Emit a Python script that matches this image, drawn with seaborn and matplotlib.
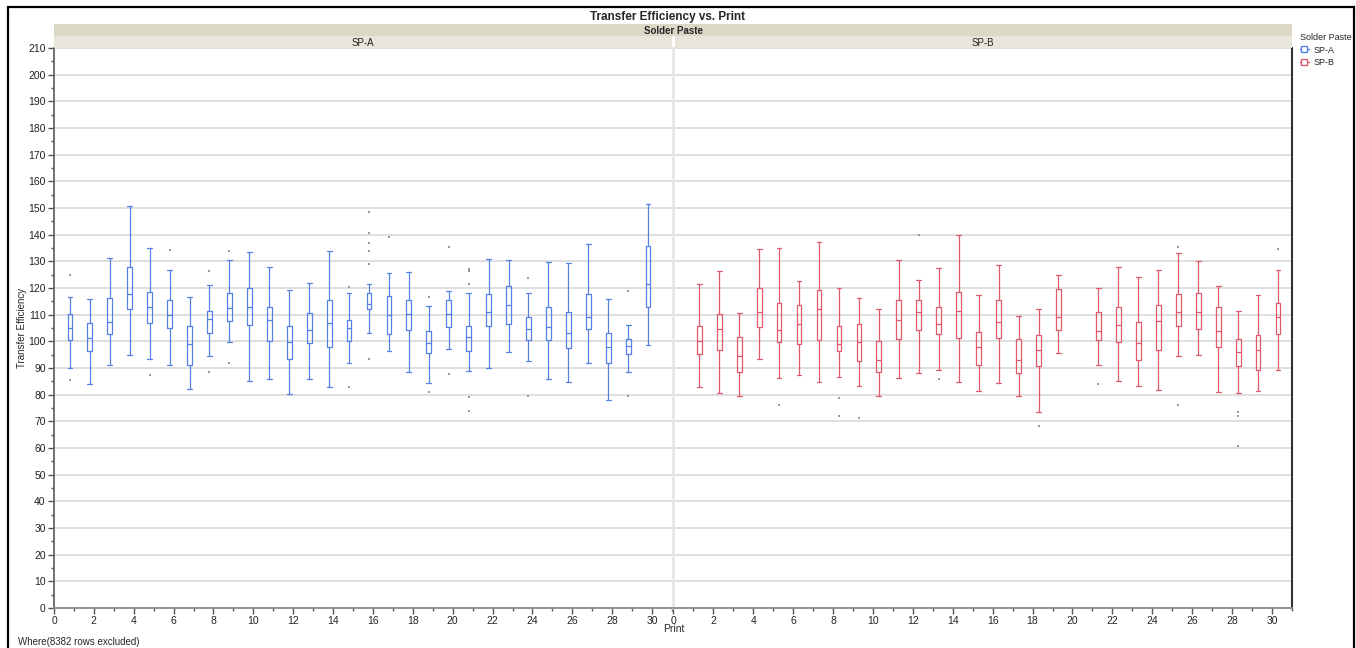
import matplotlib.pyplot as plt
import pandas as pd
import seaborn as sns
from matplotlib.patches import Rectangle
from matplotlib.lines import Line2D
from matplotlib.ticker import MultipleLocator

# box summaries, one entry per print
prints_a = list(range(1, 31))
a_low = [90.1, 84.1, 91.25, 94.75, 93.5, 91, 82, 94.5, 99.6, 85.25, 86, 80.25, 86, 82.9, 91.9,
         103.25, 96.5, 88.4, 84.5, 97, 88.9, 90.1, 96, 92.75, 86, 84.75, 92, 78.1, 88.6, 98.75]
a_q1 = [100.6, 96.5, 102.75, 112.25, 107, 105.1, 91.25, 103.25, 107.5, 106, 100.25, 93.5, 99.5, 98, 100.25,
        112, 102.9, 104.1, 95.75, 105.25, 96.25, 105.9, 106.5, 100.6, 100.5, 97.6, 104.75, 91.9, 95.25, 112.9]
a_med = [105.1, 101.25, 107.4, 117.9, 112.9, 110, 99.1, 108.5, 112.6, 112.9, 108.1, 99.9, 104.4, 107, 105.1,
         114.1, 110, 110.4, 99.5, 110.4, 101.75, 111, 113.75, 104.6, 105.5, 103.25, 109.25, 97.9, 98.4, 121.6]
a_q3 = [110.1, 107, 116.25, 128, 118.5, 115.4, 105.75, 111.4, 118.1, 120, 112.9, 105.9, 110.6, 115.5, 108,
        118, 117, 115.6, 103.9, 115.4, 105.75, 117.75, 120.6, 109.25, 112.9, 111, 117.6, 103.25, 100.9, 135.75]
a_high = [116.6, 116, 131.4, 150.6, 135.1, 126.75, 116.6, 121.1, 130.6, 133.6, 128, 119.4, 121.9, 133.9, 118.1,
          121.6, 125.75, 126.1, 113.25, 118.9, 118, 131, 130.4, 118, 129.6, 129.4, 136.5, 116, 106, 151.6]
a_out_print = [1, 1, 5, 6, 8, 8, 9, 9, 15, 15, 16, 16, 16, 16, 16, 16, 17, 19, 19, 20, 20,
               21, 21, 21, 21, 21, 24, 24, 29, 29]
a_out_value = [124.75, 85.4, 87.5, 134.1, 126.4, 88.4, 133.9, 91.75, 120.4, 82.75,
               148.6, 140.75, 136.9, 133.75, 128.9, 93.25, 139.1, 116.5, 81, 135.5, 87.75,
               127, 126.25, 121.4, 79.1, 74, 123.6, 79.4, 118.75, 79.5]

prints_b = list(range(1, 20)) + list(range(21, 31))
b_low = [82.9, 80.5, 79.5, 93.4, 86.4, 87.5, 84.75, 86.75, 83.1, 79.5, 86.4, 88.25, 89.4, 84.6, 81.5,
         84.5, 79.5, 73.5, 95.5, 91.25, 85.25, 83.1, 81.9, 94.5, 94.75, 81.1, 80.6, 81.4, 89.25]
b_q1 = [95.4, 96.9, 88.6, 105.25, 99.9, 98.9, 100.6, 96.5, 92.75, 88.6, 101, 104.4, 102.9, 101.4, 91.1,
        101.4, 88, 90.6, 104.4, 100.5, 99.6, 93.1, 96.9, 105.9, 104.75, 98, 90.9, 89.4, 102.9]
b_med = [100.25, 104.75, 94.4, 111.1, 104.4, 106.5, 112.25, 99.1, 99.75, 93.1, 108.1, 111.1, 106.5, 111.4, 97.9,
         107.4, 93.1, 96.9, 109.25, 104, 106.25, 99.5, 107.75, 111.1, 111, 104, 96.1, 96.9, 109.25]
b_q3 = [105.6, 110.1, 101.75, 120, 114.4, 113.75, 119.4, 105.9, 106.5, 100.1, 115.6, 115.4, 112.9, 118.5, 103.5,
        115.6, 100.9, 102.25, 119.6, 110.9, 112.9, 107.25, 113.75, 117.75, 118.1, 113, 100.9, 102.25, 114.5]
b_high = [121.5, 126.5, 110.75, 134.75, 135.1, 122.6, 137.25, 120, 116.25, 112.1, 130.6, 123.1, 127.5, 140, 117.25,
          128.5, 109.5, 112.25, 124.9, 120, 127.9, 124.1, 126.75, 133.1, 130.25, 120.75, 111.4, 117.25, 126.75]
b_out_print = [5, 8, 8, 9, 12, 13, 18, 21, 25, 25, 28, 28, 28, 30]
b_out_value = [76.1, 78.75, 72.1, 71.25, 140, 85.9, 68.1, 83.9, 135.5, 76, 73.6, 72, 60.6, 134.5]

groups = ['SP-A', 'SP-B']
colors = {'SP-A': '#5580E6', 'SP-B': '#DE5A6C'}
offsets = {'SP-A': -0.2, 'SP-B': 0.3}

W, H = 1356, 648


def fx(x):
    return x / W


def fy(y):
    return 1 - y / H


sns.set_theme(style='white')
plt.rcParams['font.family'] = ['Liberation Sans', 'DejaVu Sans']

fig = plt.figure(figsize=(W / 100, H / 100), dpi=100)
ax_a = fig.add_axes([fx(54), fy(608), fx(672) - fx(54), fy(48) - fy(608)])
ax_b = fig.add_axes([fx(673.3), fy(608), fx(1292) - fx(673.3), fy(48) - fy(608)], sharey=ax_a)

series = {
    'SP-A': (ax_a, prints_a, a_low, a_q1, a_med, a_q3, a_high, a_out_print, a_out_value),
    'SP-B': (ax_b, prints_b, b_low, b_q1, b_med, b_q3, b_high, b_out_print, b_out_value),
}

for name in groups:
    ax, prints, low, q1, med, q3, high, out_p, out_v = series[name]
    col = colors[name]
    stats = [dict(whislo=l, q1=a, med=m, q3=b, whishi=h, fliers=[])
             for l, a, m, b, h in zip(low, q1, med, q3, high)]
    ax.bxp(stats, positions=[p + offsets[name] for p in prints], widths=0.24, capwidths=0.24,
           showfliers=False, manage_ticks=False,
           boxprops=dict(color=col, lw=0.9), medianprops=dict(color=col, lw=0.9),
           whiskerprops=dict(color=col, lw=0.9), capprops=dict(color=col, lw=0.9))
    outs = pd.DataFrame({'Print': [p + offsets[name] for p in out_p], 'Transfer Efficiency': out_v})
    sns.scatterplot(data=outs, x='Print', y='Transfer Efficiency', ax=ax, color='#9A9A9A',
                    s=4, marker='s', linewidth=0)

for ax in (ax_a, ax_b):
    ax.set_xlim(0, 31)
    ax.set_ylim(0, 210)
    ax.yaxis.set_major_locator(MultipleLocator(10))
    ax.yaxis.set_minor_locator(MultipleLocator(5))
    ax.xaxis.set_major_locator(MultipleLocator(2))
    ax.xaxis.set_minor_locator(MultipleLocator(1))
    ax.grid(axis='y', which='major', color='#DCDCDC', lw=1.3)
    ax.set_axisbelow(True)
    ax.set_xlabel('')
    ax.set_ylabel('')
    ax.tick_params(axis='both', which='major', direction='out', length=4, width=1,
                   color='#555555', labelsize=7.5, labelcolor='#222222', pad=2)
    ax.tick_params(axis='both', which='minor', direction='out', length=2.5, width=1, color='#555555')
    ax.spines['top'].set_visible(False)
    ax.spines['bottom'].set_color('#8A8A8A')
    ax.spines['bottom'].set_linewidth(1.3)
    ax.xaxis.set_ticks_position('bottom')

ax_a.yaxis.set_ticks_position('left')
ax_a.spines['left'].set_color('#666666')
ax_a.spines['left'].set_linewidth(1.3)
ax_a.spines['right'].set_visible(False)
ax_b.spines['left'].set_color('#E6E6E6')
ax_b.spines['left'].set_linewidth(2)
ax_b.spines['right'].set_color('#333333')
ax_b.spines['right'].set_linewidth(1.5)
ax_b.tick_params(axis='y', which='both', left=False, right=False, labelleft=False)

# facet strips
fig.add_artist(Rectangle((fx(54), fy(36)), fx(1292) - fx(54), fy(24) - fy(36),
                         transform=fig.transFigure, color='#DCD8C8', lw=0))
fig.add_artist(Rectangle((fx(54), fy(48)), fx(672) - fx(54), fy(36) - fy(48),
                         transform=fig.transFigure, color='#E8E6DA', lw=0))
fig.add_artist(Rectangle((fx(675), fy(48)), fx(1292) - fx(675), fy(36) - fy(48),
                         transform=fig.transFigure, color='#E8E6DA', lw=0))
fig.text(fx(673), fy(30.5), 'Solder Paste', ha='center', va='center', fontsize=7, fontweight='bold')
fig.text(fx(363), fy(42.5), 'SP-A', ha='center', va='center', fontsize=7, color='#222222')
fig.text(fx(983), fy(42.5), 'SP-B', ha='center', va='center', fontsize=7, color='#222222')

fig.text(fx(668), fy(17), 'Transfer Efficiency vs. Print', ha='center', va='center',
         fontsize=8.5, fontweight='bold')
fig.text(fx(22), fy(328), 'Transfer Efficiency', rotation=90, ha='center', va='center', fontsize=7)
fig.text(fx(674), fy(629), 'Print', ha='center', va='center', fontsize=7.5)
fig.text(fx(18), fy(642), 'Where(8382 rows excluded)', ha='left', va='center', fontsize=7)

handles = [Line2D([], [], color=colors[g], lw=1, marker='s', markersize=4,
                  markerfacecolor='white', markeredgecolor=colors[g]) for g in groups]
leg = fig.legend(handles, groups, title='Solder Paste', loc='upper left',
                 bbox_to_anchor=(fx(1295), fy(28)), frameon=False, fontsize=6.5, title_fontsize=6.5,
                 handlelength=0.9, handletextpad=0.5, labelspacing=0.35, borderpad=0.1)
leg._legend_box.align = 'left'

# outer report frame
fig.add_artist(Rectangle((fx(8), fy(660)), fx(1354) - fx(8), fy(7) - fy(660),
                         transform=fig.transFigure, fill=False, edgecolor='black', lw=1.6))

fig.savefig('out.png', dpi=100)
